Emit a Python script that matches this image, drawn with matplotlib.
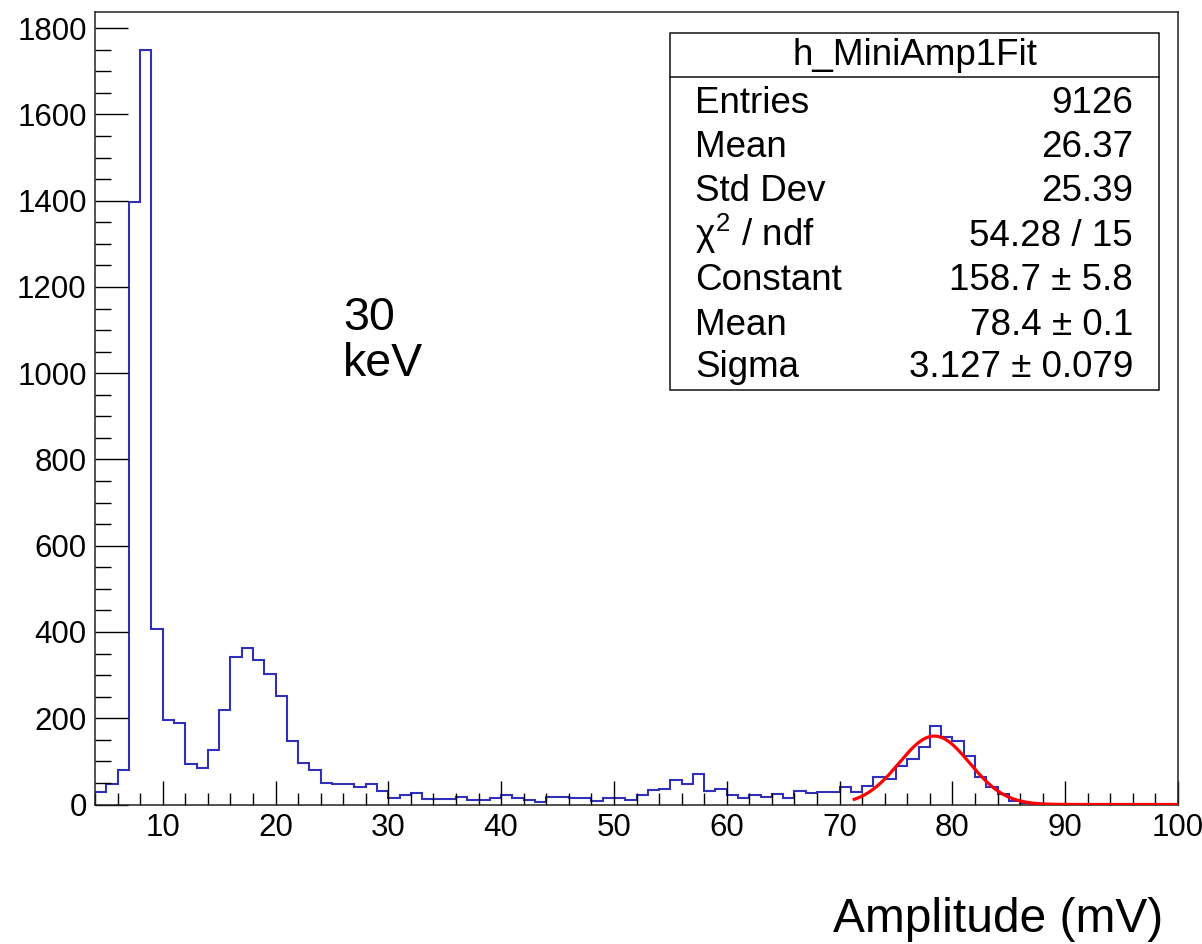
import numpy as np
import matplotlib
matplotlib.use("Agg")
import matplotlib.pyplot as plt
from matplotlib.patches import Rectangle
from matplotlib.lines import Line2D

plt.rcParams['font.family'] = ['Liberation Sans', 'DejaVu Sans']

# ---- data ----
bin_low = 4
bin_high = 100
counts = [28, 47, 80, 1397, 1750, 406, 197, 189, 95, 85,          # 4-13
          127, 219, 341, 364, 335, 303, 251, 147, 96, 79,         # 14-23
          50, 48, 48, 41, 48, 31, 14, 22, 27, 12,                 # 24-33
          12, 12, 18, 11, 11, 15, 22, 15, 11, 6,                  # 34-43
          18, 18, 14, 14, 8, 15, 15, 11, 21, 34,                  # 44-53
          37, 57, 48, 71, 31, 37, 21, 14, 21, 18,                 # 54-63
          25, 14, 31, 26, 28, 28, 41, 29, 44, 64,                 # 64-73
          60, 90, 105, 134, 181, 157, 147, 112, 63, 41,           # 74-83
          24, 8, 3, 1, 0, 0, 0, 0, 0, 0,                          # 84-93
          0, 0, 0, 0, 0, 0]                                       # 94-99
fit_const = 158.7
fit_mean = 78.4
fit_sigma = 3.127
fit_range = (71.3, 100.0)

hist_name = "h_MiniAmp1Fit"
stat_labels = ["Entries", "Mean", "Std Dev", r"$\chi^{2}$ / ndf", "Constant", "Mean", "Sigma"]
stat_values = ["9126", "26.37", "25.39", "54.28 / 15", "158.7 \u00b1 5.8", "78.4 \u00b1 0.1", "3.127 \u00b1 0.079"]
x_ticks = [10, 20, 30, 40, 50, 60, 70, 80, 90, 100]
y_ticks = [0, 200, 400, 600, 800, 1000, 1200, 1400, 1600, 1800]
annotation_lines = ["30", "keV"]
x_title = "Amplitude (mV)"

plt.rcParams['mathtext.fontset'] = 'custom'
plt.rcParams['mathtext.rm'] = 'Liberation Sans'
plt.rcParams['mathtext.it'] = 'Liberation Sans'

# ---- figure ----
W, H = 1202, 944
fig = plt.figure(figsize=(W / 100, H / 100), dpi=100)

def fx(x):
    return x / W

def fy(y):
    return 1 - y / H

ax_l, ax_r, ax_t, ax_b = 95, 1178, 12, 804.5
ax = fig.add_axes([fx(ax_l), fy(ax_b), fx(ax_r - ax_l), (ax_b - ax_t) / H])

edges = np.arange(bin_low, bin_high + 1, 1)
ax.stairs(counts, edges, color='#3030b8', linewidth=1.5, baseline=None)

xf = np.linspace(fit_range[0], fit_range[1], 600)
yf = fit_const * np.exp(-0.5 * ((xf - fit_mean) / fit_sigma) ** 2)
ax.plot(xf, yf, color='#ff0000', linewidth=2.3, zorder=3)

ymax = 1.05 * max(counts)
ax.set_xlim(bin_low, bin_high)
ax.set_ylim(0, ymax)

ax.set_xticks(x_ticks)
ax.set_xticks(np.arange(4, 101, 2), minor=True)
ax.set_yticks(y_ticks)
ax.set_yticks(np.arange(0, ymax, 50), minor=True)
ax.set_xticklabels([str(t) for t in x_ticks])
ax.set_yticklabels([str(t) for t in y_ticks])

ax.tick_params(axis='x', which='major', direction='in', length=17.1, width=1.0,
               labelsize=22.5, pad=6, top=False)
ax.tick_params(axis='x', which='minor', direction='in', length=8.6, width=1.0, top=False)
ax.tick_params(axis='y', which='major', direction='in', length=23.4, width=1.0,
               labelsize=22.5, pad=6, right=False)
ax.tick_params(axis='y', which='minor', direction='in', length=11.7, width=1.0, right=False)
for s in ax.spines.values():
    s.set_linewidth(1.1)
    s.set_color('#222222')

# ---- stats box ----
bx0, bx1, by0, by1 = 670, 1159, 32.7, 390
fig.patches.append(Rectangle((fx(bx0), fy(by1)), fx(bx1 - bx0), (by1 - by0) / H,
                             transform=fig.transFigure, facecolor='white',
                             edgecolor='#111111', linewidth=1.1, zorder=5))
fig.lines.append(Line2D([fx(bx0), fx(bx1)], [fy(76.7), fy(76.7)],
                        transform=fig.transFigure, color='#111111', linewidth=1.1, zorder=6))
fs = 26.5
fig.text(fx((bx0 + bx1) / 2), fy(65), hist_name, ha='center', va='baseline',
         fontsize=fs, zorder=7)
baselines = [112.7, 156.7, 201.0, 245.5, 290.5, 335.0, 377.0]
for lab, val, yb in zip(stat_labels, stat_values, baselines):
    fig.text(fx(695), fy(yb), lab, ha='left', va='baseline', fontsize=fs, zorder=7)
    fig.text(fx(1133), fy(yb), val, ha='right', va='baseline', fontsize=fs, zorder=7)

# ---- annotations ----
fig.text(fx(343), fy(330), annotation_lines[0], ha='left', va='baseline', fontsize=33.5)
fig.text(fx(343), fy(376), annotation_lines[1], ha='left', va='baseline', fontsize=33.5)
fig.text(fx(1163), fy(932), x_title, ha='right', va='baseline', fontsize=34.5)

fig.savefig("out.png", dpi=100, facecolor='white')
